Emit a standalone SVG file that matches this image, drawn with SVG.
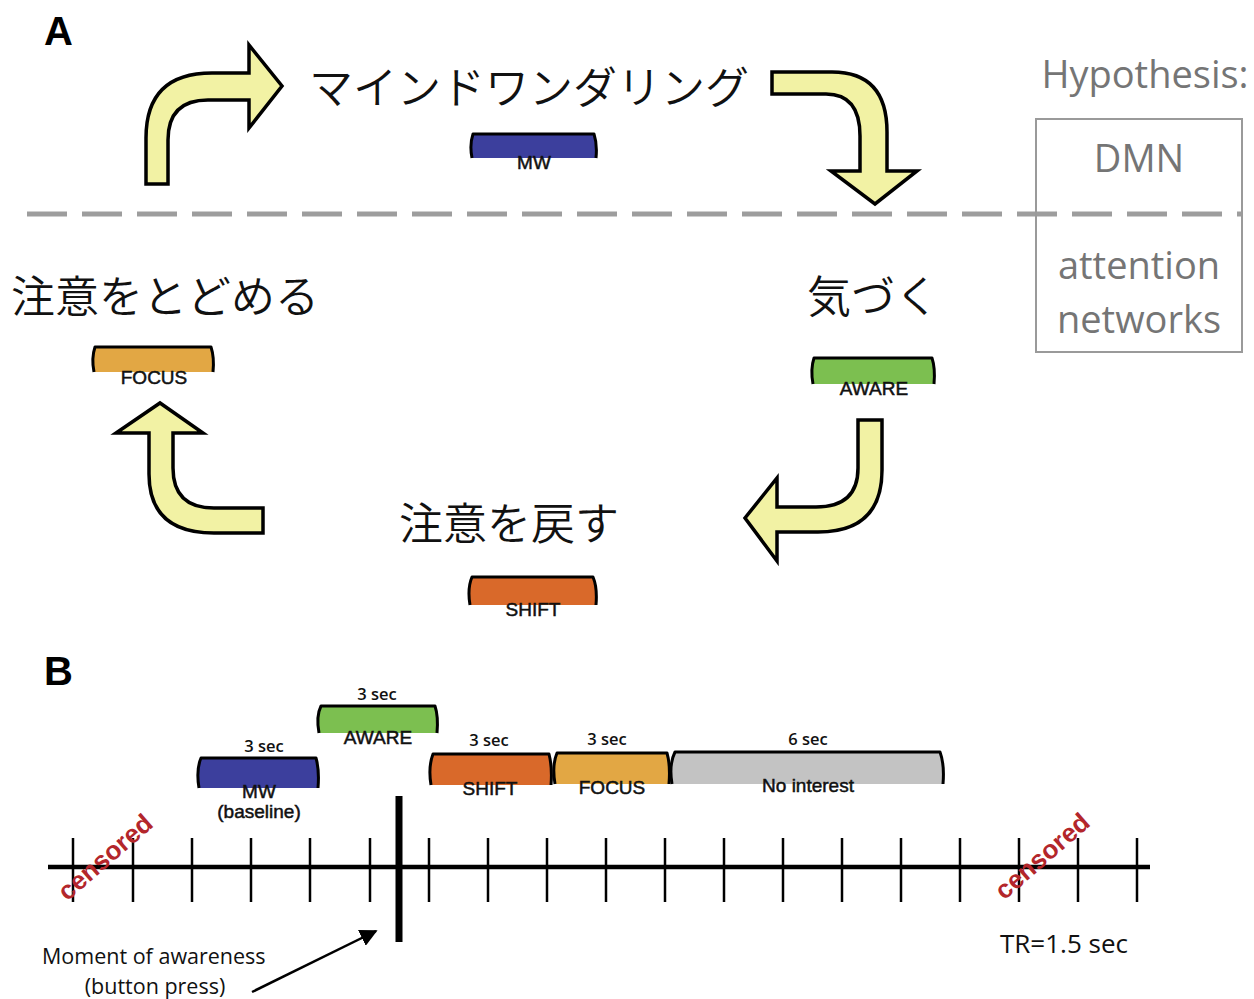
<svg xmlns="http://www.w3.org/2000/svg" width="1254" height="999" viewBox="0 0 1254 999">
  <style>
    .panel { font-family: "Liberation Sans", Arial, sans-serif; font-weight: bold; font-size: 40px; fill: #000; }
    .jp { font-family: "Noto Sans CJK JP", "Noto Sans", sans-serif; font-size: 44px; font-weight: 350; fill: #111; }
    .hyp { font-family: "Open Sans", "Liberation Sans", sans-serif; font-size: 38px; fill: #757575; text-anchor: middle; }
    .lbl { font-family: "Liberation Sans", Arial, sans-serif; font-size: 19px; fill: #111; stroke: #111; stroke-width: 0.5; text-anchor: middle; }
    .dur { font-family: "Open Sans", "Liberation Sans", sans-serif; font-size: 16.5px; font-weight: 600; fill: #111; text-anchor: middle; }
    .note { font-family: "Open Sans", "Liberation Sans", sans-serif; font-size: 21.5px; fill: #111; }
    .cens { font-family: "Liberation Sans", Arial, sans-serif; font-weight: bold; font-size: 26px; fill: #b3262b; text-anchor: middle; }
    .bar { stroke: #000; stroke-width: 3; stroke-linejoin: round; }
    .arrow { fill: #f2f2a4; stroke: #000; stroke-width: 3.5; stroke-linejoin: miter; }
    .tick { stroke: #000; stroke-width: 2.5; }
    .mw { fill: #3c3f9d; }
    .aware { fill: #7cbf50; }
    .shift { fill: #d9692a; }
    .focus { fill: #e2a744; }
    .none { fill: #c3c3c3; }
  </style>
  <defs>
    <marker id="head" viewBox="0 0 10 10" refX="9" refY="5" markerWidth="7" markerHeight="7" orient="auto" markerUnits="strokeWidth">
      <path d="M0,0 L10,5 L0,10 Z" fill="#000"/>
    </marker>
  </defs>

  <rect width="1254" height="999" fill="#fff"/>

  <!-- panel letters -->
  <text class="panel" x="44" y="45">A</text>
  <text class="panel" x="44" y="685">B</text>

  <!-- DMN / attention split -->
  <line x1="27" y1="214" x2="1242" y2="214" stroke="#9d9d9d" stroke-width="5" stroke-dasharray="40 15"/>

  <g id="hypothesis">
    <text class="hyp" x="1145" y="88">Hypothesis:</text>
    <rect x="1036" y="119" width="206" height="233" fill="none" stroke="#9a9a9a" stroke-width="2"/>
    <text class="hyp" x="1139" y="172">DMN</text>
    <text class="hyp" x="1139" y="279">attention</text>
    <text class="hyp" x="1139" y="333">networks</text>
  </g>

  <!-- cycle states -->
  <g id="state-mw">
    <text class="jp" x="309" y="104">マインドワンダリング</text>
    <path class="bar mw" d="M472,158 C470,148 471,140 473,134 L594,134 C596,140 597,148 596,158"/>
    <text class="lbl" x="534" y="169">MW</text>
  </g>

  <g id="state-aware">
    <text class="jp" x="807" y="313">気づく</text>
    <path class="bar aware" d="M813,384 C811,373 812,364 814,358 L932,358 C934,364 935,373 934,384"/>
    <text class="lbl" x="874" y="395">AWARE</text>
  </g>

  <g id="state-shift">
    <text class="jp" x="399" y="540">注意を戻す</text>
    <path class="bar shift" d="M470,605 C468,593 469,584 472,577 L593,577 C596,584 597,593 596,605"/>
    <text class="lbl" x="533" y="616">SHIFT</text>
  </g>

  <g id="state-focus">
    <text class="jp" x="11" y="313">注意をとどめる</text>
    <path class="bar focus" d="M94,372 C92,362 93,353 95,347 L211,347 C213,353 214,362 213,372"/>
    <text class="lbl" x="154" y="384">FOCUS</text>
  </g>

  <!-- cycle arrows -->
  <g id="connectors">
    <path class="arrow" d="M146,184 L146,138 Q146,73 212,73 L249,73 L249,45 L282,86 L249,128 L249,100 L208,100 Q168,100 168,140 L168,184 Z"/>
    <path class="arrow" d="M772,72 L832,72 Q887,72 887,132 L887,171 L917,171 L875,204 L831,171 L860,171 L860,136 Q860,94 826,94 L772,94 Z"/>
    <path class="arrow" d="M858,420 L882,420 L882,470 Q882,532 818,532 L777,532 L777,561 L745,518 L777,478 L777,507 L816,507 Q858,507 858,468 Z"/>
    <path class="arrow" d="M263,508 L214,508 Q173,508 173,468 L173,433 L203,433 L160,403 L116,433 L149,433 L149,474 Q149,533 214,533 L263,533 Z"/>
    <line x1="252" y1="992" x2="376" y2="931" stroke="#000" stroke-width="2.5" marker-end="url(#head)"/>
  </g>

  <!-- timeline -->
  <g id="timeline">
    <line x1="48" y1="867" x2="1150" y2="867" stroke="#000" stroke-width="4.5"/>
    <g class="tick">
      <line x1="73" y1="838" x2="73" y2="902"/>
      <line x1="133" y1="838" x2="133" y2="902"/>
      <line x1="192" y1="838" x2="192" y2="902"/>
      <line x1="251" y1="838" x2="251" y2="902"/>
      <line x1="310" y1="838" x2="310" y2="902"/>
      <line x1="370" y1="838" x2="370" y2="902"/>
      <line x1="429" y1="838" x2="429" y2="902"/>
      <line x1="488" y1="838" x2="488" y2="902"/>
      <line x1="547" y1="838" x2="547" y2="902"/>
      <line x1="606" y1="838" x2="606" y2="902"/>
      <line x1="665" y1="838" x2="665" y2="902"/>
      <line x1="724" y1="838" x2="724" y2="902"/>
      <line x1="783" y1="838" x2="783" y2="902"/>
      <line x1="842" y1="838" x2="842" y2="902"/>
      <line x1="901" y1="838" x2="901" y2="902"/>
      <line x1="960" y1="838" x2="960" y2="902"/>
      <line x1="1019" y1="838" x2="1019" y2="902"/>
      <line x1="1078" y1="838" x2="1078" y2="902"/>
      <line x1="1137" y1="838" x2="1137" y2="902"/>
    </g>
    <line x1="399" y1="796" x2="399" y2="942" stroke="#000" stroke-width="7"/>
    <text class="cens" transform="translate(105,857) rotate(-41)" y="9">censored</text>
    <text class="cens" transform="translate(1042,856) rotate(-41)" y="9">censored</text>
    <text class="note" x="42" y="964">Moment of awareness</text>
    <text class="note" x="155" y="994" text-anchor="middle">(button press)</text>
    <text class="note" x="1000" y="953" style="font-size:26px">TR=1.5 sec</text>
  </g>

  <!-- epoch blocks -->
  <g id="epoch-mw">
    <text class="dur" x="264" y="752">3 sec</text>
    <path class="bar mw" d="M199,788 C197,776 198,765 201,758 L316,758 C318,765 319,776 318,788"/>
    <text class="lbl" x="259" y="798">MW</text>
    <text class="lbl" x="259" y="818">(baseline)</text>
  </g>
  <g id="epoch-aware">
    <text class="dur" x="377" y="700">3 sec</text>
    <path class="bar aware" d="M319,733 C317,722 318,712 321,706 L435,706 C437,712 438,722 437,733"/>
    <text class="lbl" x="378" y="744">AWARE</text>
  </g>
  <g id="epoch-shift">
    <text class="dur" x="489" y="746">3 sec</text>
    <path class="bar shift" d="M431,785 C429,773 430,762 433,754 L549,754 C551,762 552,773 551,785"/>
    <text class="lbl" x="490" y="795">SHIFT</text>
  </g>
  <g id="epoch-focus">
    <text class="dur" x="607" y="745">3 sec</text>
    <path class="bar focus" d="M555,784 C553,772 554,760 557,753 L667,753 C669,760 670,772 669,784"/>
    <text class="lbl" x="612" y="794">FOCUS</text>
  </g>
  <g id="epoch-none">
    <text class="dur" x="808" y="745">6 sec</text>
    <path class="bar none" d="M672,784 C670,772 671,760 675,752 L940,752 C943,760 944,772 943,784"/>
    <text class="lbl" x="808" y="792">No interest</text>
  </g>
</svg>
